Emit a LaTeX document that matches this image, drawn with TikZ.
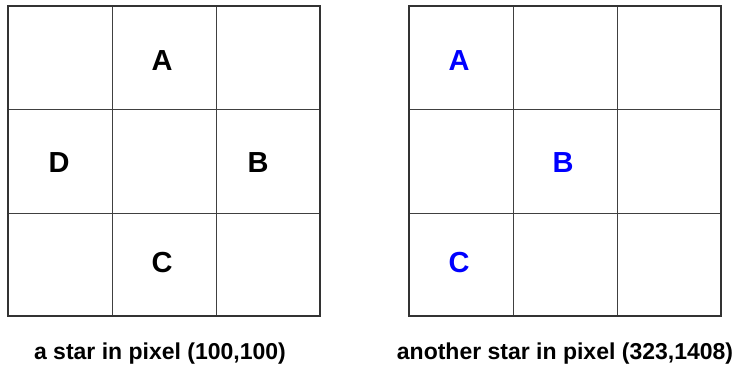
\documentclass[tikz,border=0pt]{standalone}
\usepackage{fontspec}
\setmainfont{Liberation Sans}
\begin{document}
\begin{tikzpicture}[
    x=1pt, y=-1pt,
    frame/.style={black!80, line width=2pt},
    gridline/.style={black!75, line width=0.9pt},
    letter/.style={font=\fontsize{29}{34}\selectfont\bfseries},
    blueletter/.style={letter, blue},
    caption/.style={font=\fontsize{23}{27}\selectfont\bfseries},
]
    \useasboundingbox (0,0) rectangle (738,371);

    % Left grid
    \draw[gridline] (112,6) -- (112,316) (216,6) -- (216,316);
    \draw[gridline] (8,109) -- (320,109) (8,213) -- (320,213);
    \draw[frame] (8,6) rectangle (320,316);

    % Right grid
    \draw[gridline] (513,6) -- (513,316) (617,6) -- (617,316);
    \draw[gridline] (409,109) -- (721,109) (409,213) -- (721,213);
    \draw[frame] (409,6) rectangle (721,316);

    % Letters in the left grid
    \node[letter] (la) at (162,61) {A};
    \node[letter] (lb) at (258,163) {B};
    \node[letter] (lc) at (162,263) {C};
    \node[letter] (ld) at (59,163) {D};

    % Letters in the right grid
    \node[blueletter] (ra) at (459,61) {A};
    \node[blueletter] (rb) at (563,163) {B};
    \node[blueletter] (rc) at (459,263) {C};

    % Captions
    \node[caption] (lcap) at (160,354) {a star in pixel (100,100)};
    \node[caption] (rcap) at (565,354) {another star in pixel (323,1408)};
\end{tikzpicture}
\end{document}
